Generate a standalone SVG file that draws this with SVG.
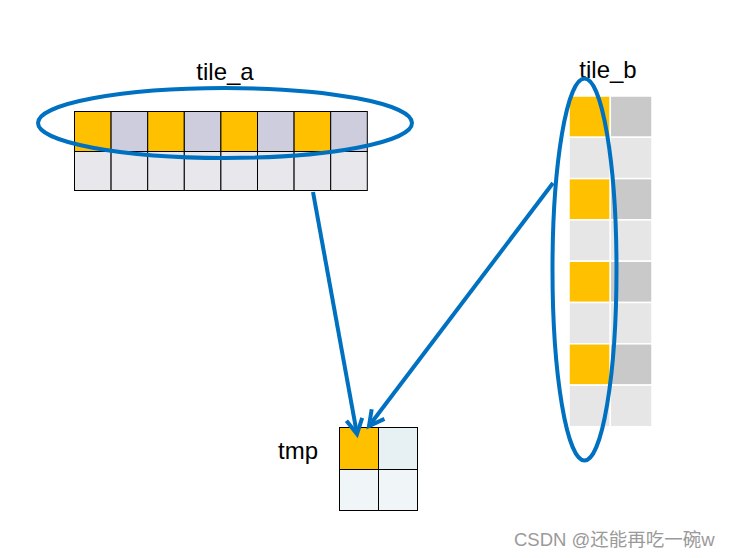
<svg xmlns="http://www.w3.org/2000/svg" width="734" height="558" viewBox="0 0 734 558">
<style>
.lbl{font-family:"Liberation Sans",Arial,sans-serif;font-size:24px;fill:#000}
.ca{stroke:#000;stroke-width:1}
.cb{stroke:#fff;stroke-width:1.5}
.or{fill:#FFC000}
.pu{fill:#CDCDDD}
.lg{fill:#E7E7EC}
.g1{fill:#C9C9C9}
.g2{fill:#E6E6E6}
.ring{fill:none;stroke:#0070C0;stroke-width:4}
.conn{fill:none;stroke:#0070C0;stroke-width:4}
</style>
<defs>
<marker id="ah" viewBox="0 0 20 20" refX="17" refY="10" markerWidth="20" markerHeight="20" markerUnits="userSpaceOnUse" orient="auto" overflow="visible">
<path d="M2,2 L17,10 L2,18" fill="none" stroke="#0070C0" stroke-width="4" stroke-linejoin="miter"/>
</marker>
</defs>
<rect width="734" height="558" fill="#fff"/>
<g id="tile_a">
<rect class="ca or" x="74.5" y="111.5" width="36.6" height="40"/>
<rect class="ca pu" x="111.1" y="111.5" width="36.6" height="40"/>
<rect class="ca or" x="147.7" y="111.5" width="36.6" height="40"/>
<rect class="ca pu" x="184.3" y="111.5" width="36.6" height="40"/>
<rect class="ca or" x="220.9" y="111.5" width="36.6" height="40"/>
<rect class="ca pu" x="257.5" y="111.5" width="36.6" height="40"/>
<rect class="ca or" x="294.1" y="111.5" width="36.6" height="40"/>
<rect class="ca pu" x="330.7" y="111.5" width="36.6" height="40"/>
<rect class="ca lg" x="74.5" y="151.5" width="36.6" height="39"/>
<rect class="ca lg" x="111.1" y="151.5" width="36.6" height="39"/>
<rect class="ca lg" x="147.7" y="151.5" width="36.6" height="39"/>
<rect class="ca lg" x="184.3" y="151.5" width="36.6" height="39"/>
<rect class="ca lg" x="220.9" y="151.5" width="36.6" height="39"/>
<rect class="ca lg" x="257.5" y="151.5" width="36.6" height="39"/>
<rect class="ca lg" x="294.1" y="151.5" width="36.6" height="39"/>
<rect class="ca lg" x="330.7" y="151.5" width="36.6" height="39"/>
<text class="lbl" x="225" y="80" text-anchor="middle">tile_a</text>
<ellipse class="ring" cx="225" cy="123" rx="187" ry="35"/>
</g>
<g id="tile_b">
<rect class="cb or" x="569" y="96" width="41.3" height="41.3"/>
<rect class="cb g1" x="610.3" y="96" width="41.7" height="41.3"/>
<rect class="cb g2" x="569" y="137.3" width="41.3" height="41.3"/>
<rect class="cb g2" x="610.3" y="137.3" width="41.7" height="41.3"/>
<rect class="cb or" x="569" y="178.6" width="41.3" height="41.3"/>
<rect class="cb g1" x="610.3" y="178.6" width="41.7" height="41.3"/>
<rect class="cb g2" x="569" y="219.9" width="41.3" height="41.3"/>
<rect class="cb g2" x="610.3" y="219.9" width="41.7" height="41.3"/>
<rect class="cb or" x="569" y="261.2" width="41.3" height="41.3"/>
<rect class="cb g1" x="610.3" y="261.2" width="41.7" height="41.3"/>
<rect class="cb g2" x="569" y="302.5" width="41.3" height="41.3"/>
<rect class="cb g2" x="610.3" y="302.5" width="41.7" height="41.3"/>
<rect class="cb or" x="569" y="343.8" width="41.3" height="41.3"/>
<rect class="cb g1" x="610.3" y="343.8" width="41.7" height="41.3"/>
<rect class="cb g2" x="569" y="385.1" width="41.3" height="41.6"/>
<rect class="cb g2" x="610.3" y="385.1" width="41.7" height="41.6"/>
<text class="lbl" x="608" y="78" text-anchor="middle">tile_b</text>
<ellipse class="ring" cx="584.5" cy="269.5" rx="32" ry="191"/>
</g>
<g id="tmp">
<rect class="ca or" x="339.5" y="427.5" width="39" height="42"/>
<rect class="ca" fill="#E7F1F4" x="378.5" y="427.5" width="39" height="42"/>
<rect class="ca" fill="#F0F5F8" x="339.5" y="469.5" width="39" height="41"/>
<rect class="ca" fill="#F0F5F8" x="378.5" y="469.5" width="39" height="41"/>
<text class="lbl" x="278" y="459">tmp</text>
</g>
<g id="connectors">
<line class="conn" x1="313" y1="192" x2="357" y2="434" marker-end="url(#ah)"/>
<line class="conn" x1="553" y1="183" x2="369" y2="426" marker-end="url(#ah)"/>
</g>
<text x="514" y="546" font-family="'Liberation Sans','Noto Sans CJK SC',sans-serif" font-size="18.5" fill="#9a9a9a">CSDN @还能再吃一碗w</text>
</svg>
